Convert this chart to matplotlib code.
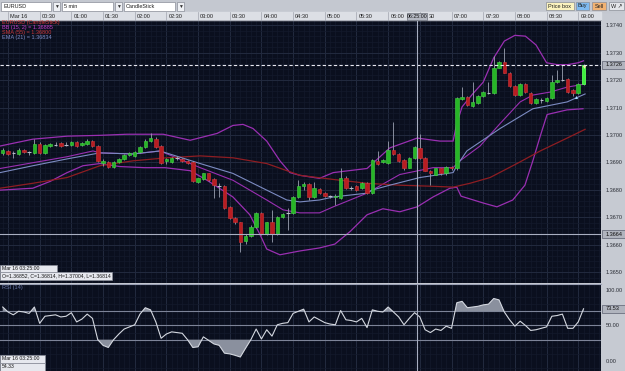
import matplotlib.pyplot as plt
import matplotlib.transforms as mtransforms
from matplotlib.patches import Rectangle
import numpy as np

plt.rcParams['font.family'] = ['Liberation Sans', 'DejaVu Sans']

# 5 minute bars, bar 0 = Mar 16 00:00
bars = list(range(-1, 110))
opens = [1.36935, 1.36942, 1.36935, 1.36931, 1.36946, 1.36938, 1.36935, 1.36967, 1.36935, 1.36960,
         1.36965, 1.36970, 1.36965, 1.36963, 1.36974, 1.36963, 1.36967, 1.36978, 1.36960, 1.36899,
         1.36903, 1.36885, 1.36903, 1.36913, 1.36928, 1.36924, 1.36938, 1.36956, 1.36978, 1.36985,
         1.36960, 1.36906, 1.36903, 1.36915, 1.36913, 1.36906, 1.36903, 1.36828, 1.36838, 1.36860,
         1.36838, 1.36815, 1.36813, 1.36738, 1.36699, 1.36681, 1.36613, 1.36631, 1.36663, 1.36716,
         1.36638, 1.36681, 1.36638, 1.36702, 1.36715, 1.36716, 1.36774, 1.36813, 1.36820, 1.36774,
         1.36803, 1.36788, 1.36776, 1.36774, 1.36770, 1.36845, 1.36808, 1.36813, 1.36806, 1.36824,
         1.36788, 1.36906, 1.36903, 1.36899, 1.36946, 1.36931, 1.36910, 1.36881, 1.36917, 1.36953,
         1.36917, 1.36870, 1.36856, 1.36878, 1.36860, 1.36885, 1.36878, 1.37132, 1.37139, 1.37107,
         1.37117, 1.37142, 1.37155, 1.37153, 1.37246, 1.37268, 1.37228, 1.37178, 1.37146, 1.37185,
         1.37153, 1.37117, 1.37127, 1.37125, 1.37135, 1.37193, 1.37201, 1.37203, 1.37164, 1.37153,
         1.37185]
highs = [1.36953, 1.36946, 1.36942, 1.36953, 1.36949, 1.36942, 1.36985, 1.36974, 1.36967, 1.36970,
         1.36974, 1.36974, 1.36974, 1.36978, 1.36978, 1.36974, 1.36985, 1.36981, 1.36963, 1.36913,
         1.36906, 1.36906, 1.36917, 1.36931, 1.36938, 1.36942, 1.36960, 1.36985, 1.37006, 1.36992,
         1.36963, 1.36917, 1.36921, 1.36924, 1.36917, 1.36910, 1.36906, 1.36845, 1.36863, 1.36863,
         1.36842, 1.36824, 1.36817, 1.36742, 1.36702, 1.36684, 1.36638, 1.36670, 1.36720, 1.36720,
         1.36684, 1.36727, 1.36706, 1.36716, 1.36734, 1.36777, 1.36835, 1.36828, 1.36824, 1.36828,
         1.36806, 1.36792, 1.36781, 1.36785, 1.36878, 1.36849, 1.36813, 1.36817, 1.36828, 1.36828,
         1.36913, 1.36942, 1.36913, 1.36978, 1.37049, 1.36935, 1.36913, 1.36921, 1.36960, 1.37003,
         1.36921, 1.36874, 1.36881, 1.36881, 1.36888, 1.36888, 1.37139, 1.37175, 1.37142, 1.37193,
         1.37146, 1.37160, 1.37193, 1.37289, 1.37271, 1.37318, 1.37232, 1.37182, 1.37189, 1.37189,
         1.37157, 1.37135, 1.37135, 1.37139, 1.37221, 1.37236, 1.37257, 1.37207, 1.37168, 1.37189,
         1.37261]
lows = [1.36928, 1.36928, 1.36917, 1.36928, 1.36935, 1.36928, 1.36931, 1.36931, 1.36931, 1.36956,
        1.36960, 1.36956, 1.36960, 1.36960, 1.36956, 1.36960, 1.36963, 1.36956, 1.36903, 1.36888,
        1.36881, 1.36881, 1.36899, 1.36910, 1.36924, 1.36921, 1.36935, 1.36953, 1.36974, 1.36953,
        1.36896, 1.36896, 1.36899, 1.36910, 1.36903, 1.36896, 1.36828, 1.36824, 1.36835, 1.36831,
        1.36770, 1.36774, 1.36731, 1.36695, 1.36677, 1.36573, 1.36602, 1.36627, 1.36659, 1.36634,
        1.36634, 1.36609, 1.36634, 1.36699, 1.36655, 1.36713, 1.36770, 1.36799, 1.36763, 1.36770,
        1.36785, 1.36774, 1.36770, 1.36745, 1.36767, 1.36803, 1.36799, 1.36795, 1.36803, 1.36785,
        1.36785, 1.36892, 1.36899, 1.36896, 1.36928, 1.36903, 1.36874, 1.36878, 1.36913, 1.36913,
        1.36867, 1.36817, 1.36853, 1.36856, 1.36856, 1.36874, 1.36874, 1.37128, 1.37107, 1.37103,
        1.37114, 1.37139, 1.37150, 1.37150, 1.37243, 1.37225, 1.37175, 1.37142, 1.37142, 1.37153,
        1.37114, 1.37114, 1.37117, 1.37121, 1.37132, 1.37189, 1.37196, 1.37153, 1.37142, 1.37150,
        1.37182]
closes = [1.36946, 1.36931, 1.36935, 1.36946, 1.36938, 1.36938, 1.36967, 1.36935, 1.36963, 1.36967,
          1.36965, 1.36960, 1.36965, 1.36974, 1.36960, 1.36970, 1.36978, 1.36960, 1.36906, 1.36906,
          1.36885, 1.36903, 1.36913, 1.36928, 1.36935, 1.36938, 1.36956, 1.36978, 1.36989, 1.36956,
          1.36899, 1.36913, 1.36917, 1.36915, 1.36906, 1.36899, 1.36831, 1.36842, 1.36860, 1.36835,
          1.36817, 1.36815, 1.36734, 1.36699, 1.36681, 1.36609, 1.36631, 1.36666, 1.36716, 1.36638,
          1.36681, 1.36638, 1.36702, 1.36713, 1.36715, 1.36774, 1.36813, 1.36820, 1.36774, 1.36806,
          1.36788, 1.36777, 1.36776, 1.36777, 1.36845, 1.36806, 1.36808, 1.36799, 1.36824, 1.36788,
          1.36910, 1.36896, 1.36910, 1.36946, 1.36931, 1.36906, 1.36878, 1.36917, 1.36956, 1.36917,
          1.36870, 1.36860, 1.36878, 1.36860, 1.36885, 1.36878, 1.37135, 1.37139, 1.37110, 1.37121,
          1.37142, 1.37157, 1.37155, 1.37243, 1.37268, 1.37228, 1.37178, 1.37146, 1.37185, 1.37157,
          1.37117, 1.37132, 1.37127, 1.37135, 1.37193, 1.37200, 1.37201, 1.37157, 1.37153, 1.37185,
          1.37257]

# indicator lines (bar position, price)
bb_up_bars = [-1.5, 4.7, 11.2, 17.4, 22.5, 29.4, 34.5, 39.6, 42.6, 44.5, 46.4, 49, 51.5, 53.4, 55.3,
              59, 61.6, 68, 72.3, 77.5, 81.8, 84.3, 85, 86, 88, 90, 92, 94, 96, 98, 100, 102, 104,
              106, 108, 109]
bb_up = [1.36960, 1.36985, 1.36996, 1.36999, 1.37003, 1.37003, 1.36981, 1.37006, 1.37035, 1.37039,
         1.37024, 1.36978, 1.36906, 1.36863, 1.36853, 1.36842, 1.36863, 1.36878, 1.36953, 1.36989,
         1.36978, 1.36978, 1.37042, 1.37103, 1.37150, 1.37193, 1.37282, 1.37343, 1.37364, 1.37361,
         1.37329, 1.37264, 1.37257, 1.37257, 1.37264, 1.37271]
bb_lo_bars = [-1.5, 4.7, 8, 11.2, 14.2, 17.4, 21.2, 25.9, 29.7, 34.5, 37.7, 42.6, 45.8, 47.7, 49,
              51.5, 55.3, 59, 61.9, 64.8, 68, 71, 74.2, 77.5, 80.5, 83.7, 85, 85.8, 90, 92.6, 95.6,
              97.9, 99.4, 100.8, 102.1, 105.9, 108.9]
bb_lo = [1.36799, 1.36806, 1.36831, 1.36863, 1.36888, 1.36896, 1.36885, 1.36881, 1.36881, 1.36870,
         1.36835, 1.36774, 1.36709, 1.36638, 1.36584, 1.36563, 1.36577, 1.36588, 1.36602, 1.36648,
         1.36709, 1.36731, 1.36720, 1.36738, 1.36774, 1.36806, 1.36810, 1.36777, 1.36752, 1.36738,
         1.36763, 1.36817, 1.36906, 1.36996, 1.37075, 1.37092, 1.37096]
bb_mid_bars = [-1.5, 4.7, 11.2, 16.1, 17.4, 23.7, 28.8, 36.4, 42.6, 49, 52.1, 55.3, 59, 61.6, 68,
               74.2, 80.5, 84.3, 85.6, 89.4, 93.2, 97, 99.4, 102.7, 105.9, 108.9]
bb_mid = [1.36878, 1.36899, 1.36921, 1.36942, 1.36935, 1.36931, 1.36942, 1.36881, 1.36835, 1.36763,
          1.36727, 1.36716, 1.36716, 1.36738, 1.36788, 1.36856, 1.36881, 1.36881, 1.36906, 1.36960,
          1.37042, 1.37121, 1.37146, 1.37157, 1.37175, 1.37185]
ema_bars = [-1.5, 4.7, 11.2, 17.4, 23.7, 28.8, 36.4, 42.6, 49, 52.8, 55.3, 59, 61.6, 68, 68.9, 72.3,
            78, 84.3, 85, 86.9, 93.2, 99.4, 105.9, 109.3]
ema = [1.36863, 1.36888, 1.36913, 1.36935, 1.36931, 1.36942, 1.36896, 1.36860, 1.36799, 1.36763,
       1.36756, 1.36763, 1.36774, 1.36788, 1.36799, 1.36817, 1.36845, 1.36863, 1.36888, 1.36942,
       1.37024, 1.37096, 1.37121, 1.37150]
sma_bars = [-1.5, 4.7, 11.2, 17.4, 23.7, 30.1, 36.4, 42.6, 49, 55.3, 61.6, 68, 74.2, 80.5, 84.3,
            87.5, 91.3, 96.4, 100.8, 105.9, 109.3]
sma = [1.36806, 1.36824, 1.36845, 1.36888, 1.36906, 1.36917, 1.36924, 1.36917, 1.36896, 1.36853,
       1.36838, 1.36824, 1.36817, 1.36813, 1.36810, 1.36824, 1.36845, 1.36896, 1.36942, 1.36989,
       1.37021]

rsi = [76, 69, 65, 70, 69, 67, 76, 53, 63, 64, 65, 62, 63, 68, 55, 59, 66, 60, 30, 22,
       19, 30, 38, 45, 48, 51, 66, 75, 72, 55, 32, 38, 41, 40, 39, 30, 19, 20, 34, 29,
       24, 22, 11, 10, 8, 5.6, 18, 30, 45, 31, 44, 35, 51, 53, 54, 67, 70, 73, 55, 62,
       58, 54, 52, 51, 71, 58, 57, 55, 60, 47, 72, 70, 69, 76, 69, 62, 51, 60, 68, 62,
       44, 40, 45, 43, 49, 46, 82, 84, 75, 76, 77, 79, 80, 88, 86, 69, 58, 49, 56, 50,
       43, 44, 46, 48, 63, 64, 66, 46, 46, 55, 73.53]

time_bars = list(range(0, 109, 6))
time_labels = ["Mar 16", "00:30", "01:00", "01:30", "02:00", "02:30", "03:00", "03:30", "04:00",
               "04:30", "05:00", "05:30", "06:00", "06:30", "07:00", "07:30", "08:00", "08:30", "09:00"]
price_ticks = [1.3650, 1.3660, 1.3670, 1.3680, 1.3690, 1.3700, 1.3710, 1.3720, 1.3730, 1.3740]

cross_bar = 77.5
cross_price = 1.36638
last_price = closes[-1]

W, H = 625, 371
BG = '#0a0f1e'
GRID_MINOR = '#131a2c'
GRID_MAJOR = '#222a3f'


def box(x0, y0, x1, y1):
    return [x0 / W, 1 - y1 / H, (x1 - x0) / W, (y1 - y0) / H]


fig = plt.figure(figsize=(6.25, 3.71), dpi=100, facecolor='#c6cad2')
ax = fig.add_axes(box(0, 20, 601, 283))
rs = fig.add_axes(box(0, 284, 601, 371))
ui = fig.add_axes([0, 0, 1, 1], zorder=10)
ui.set_xlim(0, W)
ui.set_ylim(H, 0)
ui.axis('off')

xlim = (-8 / 5.28, 593 / 5.28)

for a in (ax, rs):
    a.set_facecolor(BG)
    a.set_xlim(*xlim)
    for s in a.spines.values():
        s.set_visible(False)
    a.set_xticks(time_bars)
    a.set_xticks(np.arange(-1, 113), minor=True)
    a.tick_params(axis='x', which='both', length=0, labelbottom=False)
    a.yaxis.tick_right()
    a.tick_params(axis='y', which='both', length=0, labelsize=4, labelcolor='#2a2d35', pad=3.5)
    a.grid(which='minor', color=GRID_MINOR, lw=0.5)
    a.set_axisbelow(True)

# ---- price panel
ax.set_ylim(1.364659, 1.374073)
ax.set_yticks(price_ticks)
ax.set_yticklabels([f"{p:.4f}" for p in price_ticks])
ax.set_yticks(np.arange(1.3646, 1.3742, 0.0002), minor=True)
ax.grid(which='major', color=GRID_MAJOR, lw=0.7)

ax.plot(bb_up_bars, bb_up, color='#9a2fb2', lw=0.9, zorder=2)
ax.plot(bb_lo_bars, bb_lo, color='#9a2fb2', lw=0.9, zorder=2)
ax.plot(bb_mid_bars, bb_mid, color='#9a2fb2', lw=0.8, zorder=2)
ax.plot(sma_bars, sma, color='#8e1d22', lw=0.9, zorder=2)
ax.plot(ema_bars, ema, color='#7c8bc2', lw=0.8, zorder=2)

o = np.array(opens)
c = np.array(closes)
b = np.array(bars)
ax.vlines(b, lows, highs, color='#9aa0b0', lw=0.6, zorder=3)
up = c > o
dn = c < o
eq = c == o
ax.bar(b[up], (c - o)[up], bottom=o[up], width=0.66, color='#27b627', edgecolor='#45d445',
       lw=0.4, zorder=4)
ax.bar(b[dn], (o - c)[dn], bottom=c[dn], width=0.66, color='#b81d22', edgecolor='#d33539',
       lw=0.4, zorder=4)
ax.hlines(o[eq], b[eq] - 0.33, b[eq] + 0.33, color='#b8bcc8', lw=0.8, zorder=4)
ax.bar(b[-1], c[-1] - o[-1], bottom=o[-1], width=0.66, color='#3cf03c', edgecolor='#6cff6c',
       lw=0.4, zorder=5)
ax.scatter([107.6], [1.37140], marker='^', s=5, color='#a8dcff', zorder=6, lw=0)
ax.scatter([109], [1.37250], marker='v', s=5, color='#f2e6a8', zorder=6, lw=0)

ax.axhline(last_price, color='#e8e8f0', lw=0.8, ls=(0, (3, 2)), zorder=5)
ax.axhline(cross_price, color='#aab0c2', lw=0.8, zorder=5)
ax.axvline(cross_bar, color='#a8aec0', lw=0.8, zorder=5)

# ---- RSI panel
rs.set_ylim(-14.1, 108.4)
rs.set_yticks([0, 50, 100])
rs.set_yticklabels(["0.00", "50.00", "100.00"])
rs.set_yticks(np.arange(-10, 110, 10), minor=True)
rs.grid(axis='x', which='major', color=GRID_MAJOR, lw=0.7)
for lvl in (30, 50, 70):
    rs.axhline(lvl, color='#7d8498', lw=0.8, zorder=2)
r = np.array(rsi)
rs.fill_between(b, r, 70, where=r > 70, interpolate=True, color='#8a909e', lw=0, zorder=3)
rs.fill_between(b, r, 30, where=r < 30, interpolate=True, color='#8a909e', lw=0, zorder=3)
rs.plot(b, r, color='#d4d8e0', lw=0.8, zorder=4)
rs.axvline(cross_bar, color='#a8aec0', lw=0.8, zorder=5)

# ---- interface parts
txt = dict(fontsize=4, va='center')

ui.add_patch(Rectangle((0, 0), W, 12, color='#c4c8d0', zorder=1))
for x0, x1, label in [(1, 51, "EURUSD"), (62, 113, "5 min"), (124, 175, "CandleStick")]:
    ui.add_patch(Rectangle((x0, 1.5), x1 - x0, 9, facecolor='white', edgecolor='#8a8e98',
                           lw=0.5, zorder=2))
    ui.add_patch(Rectangle((x1 + 2, 1.5), 7, 9, facecolor='#eef0f4', edgecolor='#8a8e98',
                           lw=0.5, zorder=2))
    ui.text(x1 + 5.5, 6, "▼", fontsize=3.5, ha='center', va='center', color='#303030', zorder=3)
    ui.text(x0 + 2, 6, label, color='#202020', zorder=3, **txt)
for x0, x1, label, col in [(546, 574, "Price box", '#fbf3bf'), (576, 589, "Buy", '#7fbaf0'),
                           (592, 606, "Sell", '#f1b273'), (609, 624, "W ↗", '#e4e6ea')]:
    ui.add_patch(Rectangle((x0, 2), x1 - x0, 8, facecolor=col, edgecolor='#8a8e98', lw=0.5,
                           zorder=2))
    ui.text((x0 + x1) / 2, 6, label, ha='center', color='#202020', zorder=3, **txt)

ui.add_patch(Rectangle((0, 12), 601, 8, color='#dcdfe5', zorder=1))
ui.plot([0, 601], [19.7, 19.7], color='#9a9ea8', lw=0.5, zorder=2)
tb = mtransforms.blended_transform_factory(ax.transData, ui.transData)
for tbar, lab in zip(time_bars, time_labels):
    ui.plot([tbar, tbar], [12, 20], color='#a0a4ae', lw=0.5, transform=tb, zorder=2)
    if tbar == 78:
        # the crosshair time box hides the "06:" part of this label
        ui.text(tbar + 1.75, 16, "30", color='#202020', transform=tb, zorder=3, **txt)
        continue
    ui.text(tbar + 0.4, 16, lab, color='#202020', transform=tb, zorder=3, **txt)
ui.add_patch(Rectangle((cross_bar - 1.9, 12.5), 3.8, 7, facecolor='#b4b8c2', edgecolor='#6a6e78',
                       lw=0.5, transform=tb, zorder=4))
ui.text(cross_bar, 16, "06:25:00", ha='center', color='#101010', transform=tb, zorder=5,
        fontsize=3.8, va='center')

# legend of the price panel
for yy, lab, col in [(22.5, "EURUSD (CandleStick)", '#d13a3a'), (27.5, "BB (15, 2) = 1.36885", '#c43bc8'),
                     (32.5, "SMA (55) = 1.36800", '#c8373a'), (37.5, "EMA (21) = 1.36834", '#7e8cc6')]:
    ui.text(2, yy, lab, color=col, zorder=3, **txt)
ui.text(2, 287, "RSI (14)", color='#6a78a8', zorder=3, **txt)

ui.plot([0, 601], [283.5, 283.5], color='#9aa0b4', lw=0.8, zorder=2)

# right axis highlighted values
pt = mtransforms.blended_transform_factory(ui.transData, ax.transData)
rt = mtransforms.blended_transform_factory(ui.transData, rs.transData)
for tr, val, lab in [(pt, last_price, "1.3726"), (pt, cross_price, "1.3664"), (rt, 73.53, "73.53")]:
    disp = tr.transform((0, val))
    yp = ui.transData.inverted().transform(disp)[1]
    ui.add_patch(Rectangle((601.5, yp - 4), 23, 8, facecolor='#b0b4be', edgecolor='#5c6070',
                           lw=0.5, zorder=4))
    ui.text(606, yp, lab, color='#101010', zorder=5, fontsize=4, va='center')

# crosshair tooltips
for x0, y0, x1, y1, lab in [(0, 265, 57, 272, "Mar 16 03:25:00"),
                            (0, 272, 112, 280, "O=1.36852, C=1.36814, H=1.37004, L=1.36814"),
                            (0, 355, 45, 363, "Mar 16 03:25:00"),
                            (0, 363, 45, 371, "54.33")]:
    ui.add_patch(Rectangle((x0, y0), x1 - x0, y1 - y0, facecolor='#e6e8ee', edgecolor='#8a8e9a',
                           lw=0.5, zorder=6))
    ui.text(x0 + 2, (y0 + y1) / 2, lab, color='#151515', zorder=7, fontsize=3.7, va='center')

fig.savefig("out.png", dpi=100, facecolor=fig.get_facecolor())
